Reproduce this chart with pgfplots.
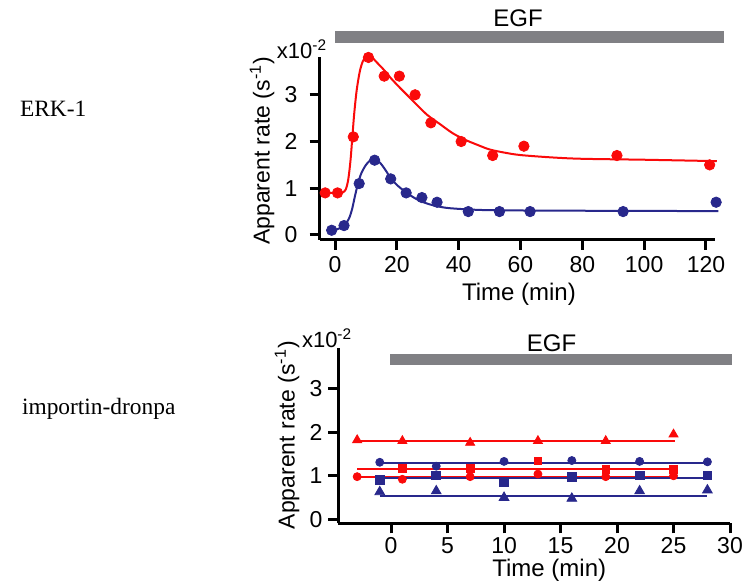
\documentclass[border=0pt]{standalone}
\usepackage{pgfplots}
\pgfplotsset{compat=1.18}
\usepackage{fontspec}
\setmainfont{Liberation Sans}
\newfontfamily\seriffont{Liberation Serif}

\definecolor{egfgray}{RGB}{128,128,132}
\definecolor{rred}{RGB}{250,10,10}
\definecolor{nblue}{RGB}{40,40,140}

\pgfplotsset{
  panel/.style={
    scale only axis,
    axis lines*=left,
    axis line style={line width=1.5pt},
    tick align=outside,
    major tick length=5pt,
    major tick style={black, line width=1.5pt},
    tick label style={font=\fontsize{11.5}{13}\selectfont},
    /pgf/number format/assume math mode=true,
    ytick={0,1,2,3},
    clip=false,
  },
}

\begin{document}
\begin{tikzpicture}
\path[use as bounding box] (0,0) rectangle (373.5pt,291pt);

\node[anchor=west, font=\seriffont\fontsize{11.7}{14}\selectfont] at (6.5pt,236.5pt) {ERK-1};
\node[anchor=west, font=\seriffont\fontsize{11.7}{14}\selectfont] at (7.5pt,86.5pt) {importin-dronpa};

% ERK-1
\begin{axis}[panel,
  at={(159.8pt,171.2pt)}, anchor=south west,
  width=197.8pt, height=91.3pt,
  xmin=-5, xmax=123, ymin=-0.1, ymax=3.81,
  xtick={0,20,40,60,80,100,120},
  yticklabel style={xshift=-2.5pt},
]
\addplot[fill=egfgray, draw=none] coordinates {(0,4.11) (126,4.11) (126,4.37) (0,4.37)} -- cycle;
\node[font=\fontsize{12}{14}\selectfont] at (axis cs:59.2,4.65) {EGF};
\node[font=\fontsize{11}{13}\selectfont] at (axis cs:-10.7,3.98) {x10\textsuperscript{-2}};
\node[font=\fontsize{12}{14}\selectfont] at (axis cs:59.5,-1.28) {Time (min)};
\node[rotate=90, font=\fontsize{11.5}{14}\selectfont] at (axis cs:-23.6,1.8) {Apparent rate (s\textsuperscript{-1})};

\addplot[rred, line width=1pt, smooth] coordinates {
(-3.2,0.9)(1,0.9)(2.5,0.91)(3.5,0.98)(4.3,1.2)(5,1.6)(5.6,2.1)(6.2,2.6)(7,3.1)(8,3.5)(9,3.72)(10,3.81)(11,3.83)(12,3.8)(13,3.73)(14,3.66)(16,3.52)(18,3.36)(21,3.15)(24,2.95)(27,2.75)(30,2.56)(34,2.37)(38,2.18)(42,2.04)(46,1.93)(50,1.83)(55,1.76)(60,1.71)(70,1.66)(80,1.63)(100,1.61)(123.5,1.58)
};
\addplot[nblue, line width=1pt, smooth] coordinates {
(-1.1,0.1)(1,0.13)(3,0.2)(4.5,0.35)(5.5,0.55)(6.5,0.85)(7.5,1.12)(8.5,1.32)(10,1.5)(11.5,1.6)(13,1.62)(14.5,1.55)(16,1.42)(18,1.22)(20,1.07)(23,0.91)(26,0.78)(29,0.69)(32,0.63)(36,0.58)(42,0.55)(50,0.53)(70,0.52)(124,0.51)
};
\addplot[only marks, mark=*, mark size=2.6pt, rred] coordinates {
(-3.2,0.9)(0.8,0.9)(5.9,2.1)(10.8,3.8)(15.9,3.4)(20.8,3.4)(25.9,3.0)(31.0,2.4)(40.8,2.0)(51.0,1.7)(61.1,1.9)(91.2,1.7)(121.2,1.5)
};
\addplot[only marks, mark=*, mark size=2.6pt, nblue] coordinates {
(-1.1,0.1)(2.9,0.2)(7.8,1.1)(12.8,1.6)(18.0,1.2)(23.0,0.9)(28.1,0.8)(33.0,0.7)(43.1,0.5)(53.2,0.5)(63.1,0.5)(93.2,0.5)(123.3,0.7)
};
\end{axis}

% importin-dronpa
\begin{axis}[panel,
  at={(169.2pt,29.35pt)}, anchor=south west,
  width=195.8pt, height=87.4pt,
  xmin=-4.66, xmax=30, ymin=-0.09, ymax=3.92,
  xtick={0,5,10,15,20,25,30},
  xticklabel style={yshift=1.5pt},
  yticklabel style={xshift=0.5pt},
]
\addplot[fill=egfgray, draw=none] coordinates {(-0.1,3.53) (30.2,3.53) (30.2,3.79) (-0.1,3.79)} -- cycle;
\node[font=\fontsize{12}{14}\selectfont] at (axis cs:14.2,4.04) {EGF};
\node[font=\fontsize{11}{13}\selectfont] at (axis cs:-5.66,4.16) {x10\textsuperscript{-2}};
\node[font=\fontsize{12}{14}\selectfont] at (axis cs:14.0,-1.17) {Time (min)};
\node[rotate=90, font=\fontsize{11.5}{14}\selectfont] at (axis cs:-9.2,1.93) {Apparent rate (s\textsuperscript{-1})};

% fitted levels
\addplot[rred, line width=1pt] coordinates {(-3.3,1.8)(25.1,1.8)};
\addplot[rred, line width=1pt] coordinates {(-3,1.15)(25,1.15)(25,0.98)};
\addplot[rred, line width=1pt] coordinates {(-3.3,0.98)(25,0.98)};
\addplot[nblue, line width=1pt] coordinates {(-1,1.3)(28,1.3)};
\addplot[nblue, line width=1pt] coordinates {(-1,0.95)(28,0.95)};
\addplot[nblue, line width=1pt] coordinates {(-1,0.54)(28,0.54)};

% data
\addplot[only marks, mark=triangle*, mark size=2.6pt, rred] coordinates {
(-3,1.82)(1,1.8)(7,1.76)(13,1.8)(19,1.8)(25,1.95)};
\addplot[only marks, mark=square*, mark size=1.9pt, rred] coordinates {
(1,1.17)(7,1.17)(13,1.34)(19,1.15)(25,1.15)};
\addplot[only marks, mark=*, mark size=2pt, rred] coordinates {
(-3,0.98)(1,0.92)(7,0.98)(13,1.04)(19,0.98)(25,1.0)};
\addplot[only marks, mark=*, mark size=2pt, nblue] coordinates {
(-1,1.31)(4,1.22)(10,1.33)(16,1.35)(22,1.33)(28,1.32)};
\addplot[only marks, mark=square*, mark size=2.2pt, nblue] coordinates {
(-1,0.9)(4,1.01)(10,0.86)(16,0.98)(22,1.01)(28,1.01)};
\addplot[only marks, mark=triangle*, mark size=2.8pt, nblue] coordinates {
(-1,0.63)(4,0.65)(10,0.5)(16,0.48)(22,0.65)(28,0.67)};
\end{axis}
\end{tikzpicture}
\end{document}
